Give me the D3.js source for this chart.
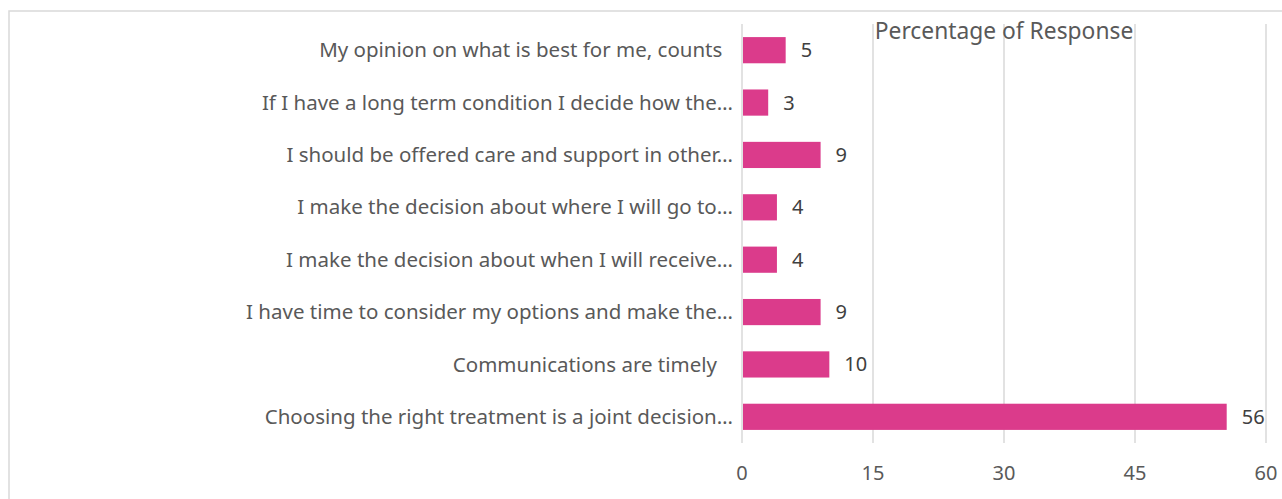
<!DOCTYPE html>
<html lang="en">
<head>
<meta charset="utf-8">
<title>Percentage of Response</title>
<style>
body { margin:0; background:#fff; }
svg { display:block; font-family:'Segoe UI','Noto Sans',sans-serif; }
.grid line { stroke:#d9d9d9; stroke-width:1.5; }
.cat text { fill:#595959; font-size:20.5px; white-space:pre; }
.tick-x text { fill:#595959; font-size:20px; }
.val { fill:#404040; font-size:20px; }
.title { fill:#595959; font-size:22.8px; }
</style>
</head>
<body>
<svg width="1282" height="499"></svg>
<script src="https://cdn.jsdelivr.net/npm/d3@7"></script>
<script>

var categories = [
  "My opinion on what is best for me, counts  ",
  "If I have a long term condition I decide how the\u2026",
  "I should be offered care and support in other\u2026",
  "I make the decision about where I will go to\u2026",
  "I make the decision about when I will receive\u2026",
  "I have time to consider my options and make the\u2026",
  "Communications are timely   ",
  "Choosing the right treatment is a joint decision\u2026"
];
var values = [5, 3, 9, 4, 4, 9, 10, 55.5];
var xTicks = [0, 15, 30, 45, 60];

var svg = d3.select("svg"),
    plot = {left: 742, right: 1266, top: 24, bottom: 443};

// outer chart border
svg.append("rect")
  .attr("x", 9).attr("y", 11)
  .attr("width", 1290).attr("height", 520)
  .attr("fill", "none")
  .attr("stroke", "#d9d9d9")
  .attr("stroke-width", 1.5);

var x = d3.scaleLinear().domain([0, 60]).range([plot.left, plot.right]);
var y = d3.scaleBand().domain(categories).range([plot.top, plot.bottom])
  .paddingInner(0.5).paddingOuter(0.25);

svg.append("g").attr("class", "grid")
  .selectAll("line").data(xTicks).enter().append("line")
  .attr("x1", function(d) { return x(d); })
  .attr("x2", function(d) { return x(d); })
  .attr("y1", plot.top).attr("y2", plot.bottom);

svg.append("g").attr("class", "tick-x")
  .selectAll("text").data(xTicks).enter().append("text")
  .attr("x", function(d) { return x(d); })
  .attr("y", 480)
  .attr("text-anchor", "middle")
  .text(function(d) { return d; });

svg.append("g").attr("class", "cat")
  .selectAll("text").data(categories).enter().append("text")
  .attr("x", plot.left - 9)
  .attr("y", function(d) { return y(d) + y.bandwidth() / 2; })
  .attr("dy", "0.35em")
  .attr("text-anchor", "end")
  .text(function(d) { return d; });

svg.append("g")
  .selectAll("rect").data(values).enter().append("rect")
  .attr("x", x(0) + 1)
  .attr("y", function(d, i) { return y(categories[i]); })
  .attr("width", function(d) { return x(d) - x(0) - 1; })
  .attr("height", y.bandwidth())
  .attr("fill", "#db3b8b");

svg.append("g")
  .selectAll("text").data(values).enter().append("text")
  .attr("class", "val")
  .attr("x", function(d) { return x(d) + 15; })
  .attr("y", function(d, i) { return y(categories[i]) + y.bandwidth() / 2; })
  .attr("dy", "0.35em")
  .text(function(d) { return Math.round(d); });

svg.append("text")
  .attr("class", "title")
  .attr("x", (plot.left + plot.right) / 2)
  .attr("y", 39)
  .attr("text-anchor", "middle")
  .text("Percentage of Response");

</script>
</body>
</html>
